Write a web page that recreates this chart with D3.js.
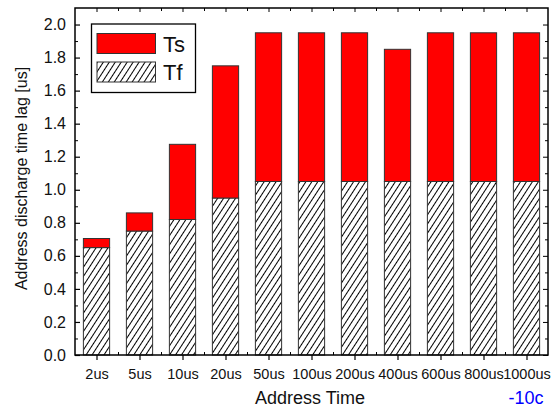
<!DOCTYPE html>
<html>
<head>
<meta charset="utf-8">
<script src="https://cdn.jsdelivr.net/npm/d3@7"></script>
<style>
  body { margin: 0; background: white; }
  svg { font-family: "Liberation Sans", Arial, sans-serif; }
</style>
</head>
<body>
<div id="rendering"></div>
<script>
const categories = ["2us", "5us", "10us", "20us", "50us", "100us", "200us", "400us", "600us", "800us", "1000us"];
const tfValues = [0.65, 0.75, 0.82, 0.95, 1.05, 1.05, 1.05, 1.05, 1.05, 1.05, 1.05];
const tsValues = [0.055, 0.11, 0.455, 0.80, 0.90, 0.90, 0.90, 0.80, 0.90, 0.90, 0.90];
const yTicks = [0, 0.2, 0.4, 0.6, 0.8, 1.0, 1.2, 1.4, 1.6, 1.8, 2.0];
const yMinorTicks = d3.range(0.1, 2.1, 0.2);

const width = 554;
const height = 413;
const plotLeft = 75;
const plotRight = 548;
const plotTop = 8;
const plotBottom = 355;

const scaleX = d3.scaleBand().domain(categories).range([plotLeft, plotRight]).paddingInner(0.39).paddingOuter(0.195);
const scaleY = d3.scaleLinear().domain([0, 2.1]).range([plotBottom, plotTop]);

const svg = d3.select("#rendering").append("svg")
  .attr("width", width)
  .attr("height", height);

const defs = svg.append("defs");
const pattern = defs.append("pattern")
  .attr("id", "hatch")
  .attr("patternUnits", "userSpaceOnUse")
  .attr("width", 5)
  .attr("height", 5)
  .attr("patternTransform", "rotate(33)");
pattern.append("rect").attr("width", 5).attr("height", 5).attr("fill", "white");
pattern.append("line")
  .attr("x1", 0.5).attr("y1", 0).attr("x2", 0.5).attr("y2", 5)
  .attr("stroke", "#000").attr("stroke-width", 1);

const stacked = categories.map((c, i) => ({ cat: c, tf: tfValues[i], ts: tsValues[i] }));

// Tf bars
svg.selectAll("rect.tf").data(stacked).enter().append("rect")
  .attr("class", "tf")
  .attr("x", (d) => scaleX(d.cat))
  .attr("width", scaleX.bandwidth())
  .attr("y", (d) => scaleY(d.tf))
  .attr("height", (d) => scaleY(0) - scaleY(d.tf))
  .attr("fill", "url(#hatch)")
  .attr("stroke", "#333")
  .attr("stroke-width", 1);

// Ts bars
svg.selectAll("rect.ts").data(stacked).enter().append("rect")
  .attr("class", "ts")
  .attr("x", (d) => scaleX(d.cat))
  .attr("width", scaleX.bandwidth())
  .attr("y", (d) => scaleY(d.tf + d.ts))
  .attr("height", (d) => scaleY(d.tf) - scaleY(d.tf + d.ts))
  .attr("fill", "#ff0000")
  .attr("stroke", "#333")
  .attr("stroke-width", 1);

// Frame
svg.append("rect")
  .attr("x", plotLeft).attr("y", plotTop)
  .attr("width", plotRight - plotLeft).attr("height", plotBottom - plotTop)
  .attr("fill", "none").attr("stroke", "black").attr("stroke-width", 1.5);

// Left axis (ticks inside)
const yAxis = svg.append("g").attr("transform", `translate(${plotLeft},0)`)
  .call(d3.axisLeft(scaleY).tickValues(yTicks).tickFormat(d3.format(".1f")).tickSizeInner(-5).tickSizeOuter(0).tickPadding(9));
yAxis.select(".domain").remove();
yAxis.selectAll("text").attr("font-size", 16).attr("fill", "#111").attr("font-family", "Liberation Sans, Arial, sans-serif");
yAxis.selectAll("line").attr("stroke-width", 1.2);

svg.append("g").attr("transform", `translate(${plotLeft},0)`)
  .call(d3.axisLeft(scaleY).tickValues(yMinorTicks).tickFormat("").tickSizeInner(-3).tickSizeOuter(0))
  .call((g) => g.select(".domain").remove());

// Right axis ticks
svg.append("g").attr("transform", `translate(${plotRight},0)`)
  .call(d3.axisRight(scaleY).tickValues(yTicks).tickFormat("").tickSizeInner(-5).tickSizeOuter(0))
  .call((g) => g.select(".domain").remove());
svg.append("g").attr("transform", `translate(${plotRight},0)`)
  .call(d3.axisRight(scaleY).tickValues(yMinorTicks).tickFormat("").tickSizeInner(-3).tickSizeOuter(0))
  .call((g) => g.select(".domain").remove());

// Bottom axis: centers outward, boundaries inward
const centerScale = d3.scalePoint().domain(categories).range([plotLeft + scaleX.step() / 2, plotRight - scaleX.step() / 2]);
const xAxis = svg.append("g").attr("transform", `translate(0,${plotBottom})`)
  .call(d3.axisBottom(centerScale).tickSizeInner(5).tickSizeOuter(0).tickPadding(9));
xAxis.select(".domain").remove();
xAxis.selectAll("text").attr("font-size", 14.5).attr("fill", "#111").attr("font-family", "Liberation Sans, Arial, sans-serif");
xAxis.selectAll("line").attr("stroke-width", 1.2);

const boundaries = d3.range(1, categories.length).map((i) => plotLeft + i * scaleX.step());
const boundaryScale = d3.scaleLinear().domain([plotLeft, plotRight]).range([plotLeft, plotRight]);
svg.append("g").attr("transform", `translate(0,${plotBottom})`)
  .call(d3.axisBottom(boundaryScale).tickValues(boundaries).tickFormat("").tickSizeInner(-3).tickSizeOuter(0))
  .call((g) => g.select(".domain").remove());

// Top axis ticks inward
svg.append("g").attr("transform", `translate(0,${plotTop})`)
  .call(d3.axisTop(centerScale).tickFormat("").tickSizeInner(-4).tickSizeOuter(0))
  .call((g) => g.select(".domain").remove());
svg.append("g").attr("transform", `translate(0,${plotTop})`)
  .call(d3.axisTop(boundaryScale).tickValues(boundaries).tickFormat("").tickSizeInner(-3).tickSizeOuter(0))
  .call((g) => g.select(".domain").remove());

// Axis titles
svg.append("text")
  .attr("transform", `translate(27,${(plotTop + plotBottom) / 2 - 3}) rotate(-90)`)
  .attr("text-anchor", "middle")
  .attr("font-size", 16)
  .attr("fill", "#111")
  .text("Address discharge time lag [us]");

svg.append("text")
  .attr("x", 310).attr("y", 404)
  .attr("text-anchor", "middle")
  .attr("font-size", 18)
  .attr("fill", "#111")
  .text("Address Time");

svg.append("text")
  .attr("x", 526).attr("y", 404)
  .attr("text-anchor", "middle")
  .attr("font-size", 18)
  .attr("fill", "#0000ff")
  .text("-10c");

// Legend
const legend = svg.append("g");
legend.append("rect")
  .attr("x", 91.5).attr("y", 24).attr("width", 104).attr("height", 68.5)
  .attr("fill", "white").attr("stroke", "black").attr("stroke-width", 1.3);
const legendItems = [
  { label: "Ts", fill: "#ff0000", y: 33.5 },
  { label: "Tf", fill: "url(#hatch)", y: 62 }
];
legend.selectAll("rect.item").data(legendItems).enter().append("rect")
  .attr("class", "item")
  .attr("x", 97).attr("y", (d) => d.y)
  .attr("width", 58.5).attr("height", 20)
  .attr("fill", (d) => d.fill)
  .attr("stroke", "#333").attr("stroke-width", 1);
legend.selectAll("text.item").data(legendItems).enter().append("text")
  .attr("class", "item")
  .attr("x", 163).attr("y", (d) => d.y + 18)
  .attr("font-size", 22)
  .attr("fill", "#111")
  .text((d) => d.label);
</script>
</body>
</html>
